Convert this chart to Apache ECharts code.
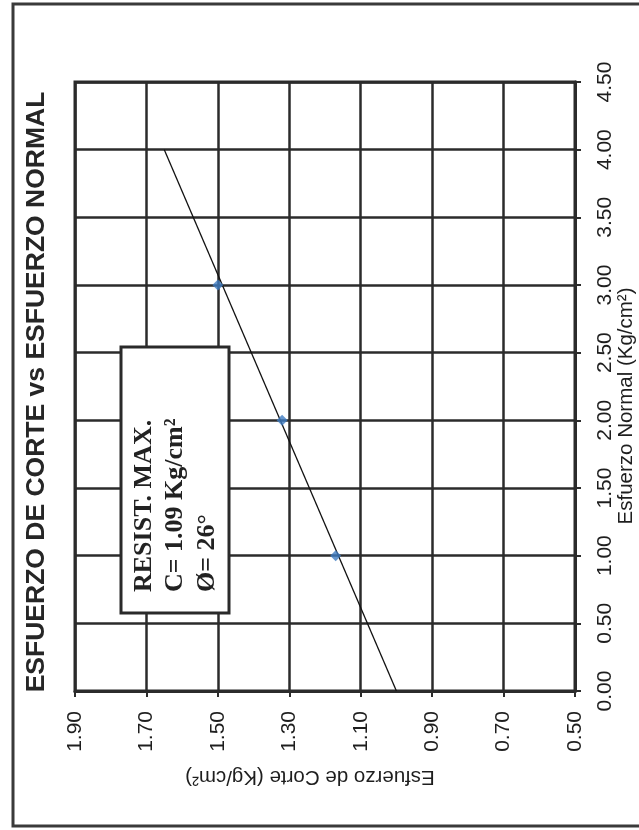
<!DOCTYPE html>
<html>
<head>
<meta charset="utf-8">
<script src="https://cdn.jsdelivr.net/npm/echarts@6/dist/echarts.min.js"></script>
<style>
html,body{margin:0;padding:0;background:#fff;}
#chart{width:639px;height:830px;}
</style>
</head>
<body>
<div id="chart"></div>
<script>
// ---- data ----
const normalValues = [1.00, 2.00, 3.00];          // Esfuerzo Normal (Kg/cm²)
const corteValues = [1.17, 1.32, 1.50];           // Esfuerzo de Corte (Kg/cm²)
const trendNormal = [0.00, 4.00];
const trendCorte = [1.00, 1.65];
const normalAxisRange = [0.00, 4.50, 0.50];       // min, max, step
const corteAxisRange = [0.50, 1.90, 0.20];        // min, max, step
const titleText = 'ESFUERZO DE CORTE vs ESFUERZO NORMAL';
const xName = 'Esfuerzo de Corte (Kg/cm²)';
const yName = 'Esfuerzo Normal (Kg/cm²)';
const boxLines = ['RESIST. MAX.', 'C= 1.09 Kg/cm²', 'Ø= 26°'];

const chart = echarts.init(document.getElementById('chart'), null, {renderer: 'canvas'});
const points = normalValues.map((n, i) => [corteValues[i], n]);
const trend = trendNormal.map((n, i) => [trendCorte[i], n]);
const dark = '#2b2b2b';
const R = Math.PI / 2;

const option = {
  backgroundColor: '#ffffff',
  animation: false,
  grid: {left: 75, right: 64, top: 82, bottom: 139, show: true, borderColor: dark, borderWidth: 3},
  xAxis: {
    type: 'value', inverse: true,
    min: corteAxisRange[0], max: corteAxisRange[1], interval: corteAxisRange[2],
    axisLine: {show: true, lineStyle: {color: dark, width: 3}},
    axisTick: {show: true, length: 6, lineStyle: {color: dark, width: 2}},
    splitLine: {show: true, lineStyle: {color: dark, width: 2.5}},
    axisLabel: {rotate: 90, margin: 20, color: '#1e1e1e', fontSize: 21, fontFamily: 'Liberation Sans',
      formatter: v => v.toFixed(2)}
  },
  yAxis: {
    type: 'value', position: 'right',
    min: normalAxisRange[0], max: normalAxisRange[1], interval: normalAxisRange[2],
    axisLine: {show: true, lineStyle: {color: dark, width: 3}},
    axisTick: {show: true, length: 6, lineStyle: {color: dark, width: 2}},
    splitLine: {show: true, lineStyle: {color: dark, width: 2.5}},
    axisLabel: {rotate: 90, margin: 20, color: '#1e1e1e', fontSize: 21, fontFamily: 'Liberation Sans',
      formatter: v => v.toFixed(2)}
  },
  series: [
    {type: 'line', data: trend, symbol: 'none', lineStyle: {color: '#111', width: 1.3}, z: 3},
    {type: 'scatter', data: points, symbol: 'diamond', symbolSize: 11, itemStyle: {color: '#3f7cc2'}, z: 4}
  ],
  graphic: [
    {type: 'rect', shape: {x: 13, y: 4, width: 660, height: 822}, style: {fill: 'none', stroke: '#3a3a3a', lineWidth: 3}, z: 10},
    {type: 'text', x: 37, y: 392, rotation: R, style: {text: titleText, align: 'center', verticalAlign: 'middle',
      font: 'bold 26.5px "Liberation Sans"', fill: '#262626'}, z: 10},
    {type: 'text', x: 310, y: 777, rotation: Math.PI, style: {text: xName, align: 'center', verticalAlign: 'middle',
      font: '20.5px "Liberation Sans"', fill: '#1e1e1e'}, z: 10},
    {type: 'text', x: 626, y: 406, rotation: R, style: {text: yName, align: 'center', verticalAlign: 'middle',
      font: '20.5px "Liberation Sans"', fill: '#1e1e1e'}, z: 10},
    {type: 'rect', shape: {x: 121, y: 347, width: 108, height: 266}, style: {fill: '#fff', stroke: '#2a2a2a', lineWidth: 3}, z: 10},
    {type: 'text', x: 144, y: 592, rotation: R, style: {text: boxLines[0], align: 'left', verticalAlign: 'middle',
      font: 'bold 26px "Liberation Serif"', fill: '#222'}, z: 11},
    {type: 'text', x: 175, y: 592, rotation: R, style: {text: boxLines[1], align: 'left', verticalAlign: 'middle',
      font: 'bold 26px "Liberation Serif"', fill: '#222'}, z: 11},
    {type: 'text', x: 207, y: 592, rotation: R, style: {text: boxLines[2], align: 'left', verticalAlign: 'middle',
      font: 'bold 26px "Liberation Serif"', fill: '#222'}, z: 11}
  ]
};
chart.setOption(option);
</script>
</body>
</html>
